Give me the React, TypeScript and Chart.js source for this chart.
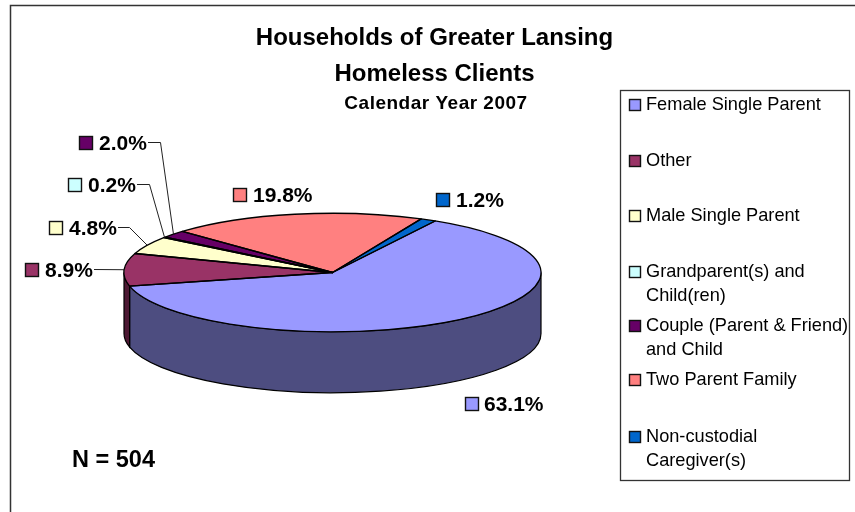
import React, { useEffect, useRef } from "react";
import { Chart, registerables } from "chart.js";

Chart.register(...registerables);

const categories = [
  "Female Single Parent",
  "Other",
  "Male Single Parent",
  "Grandparent(s) and Child(ren)",
  "Couple (Parent & Friend) and Child",
  "Two Parent Family",
  "Non-custodial Caregiver(s)",
];
const values = [63.1, 8.9, 4.8, 0.2, 2.0, 19.8, 1.2];
const valueLabels = ["63.1%", "8.9%", "4.8%", "0.2%", "2.0%", "19.8%", "1.2%"];
const topColors = ["#9999FF", "#993366", "#FFFFCC", "#CCFFFF", "#660066", "#FF8080", "#0066CC"];
const sideColors = ["#4D4D80", "#4D1933", "#808066", "#668080", "#330033", "#804040", "#003366"];
const legendLines = [
  ["Female Single Parent"],
  ["Other"],
  ["Male Single Parent"],
  ["Grandparent(s) and", "Child(ren)"],
  ["Couple (Parent & Friend)", "and Child"],
  ["Two Parent Family"],
  ["Non-custodial", "Caregiver(s)"],
];
const titleLines = ["Households of Greater Lansing", "Homeless Clients"];
const subtitle = "Calendar Year 2007";
const note = "N = 504";

// layout only
const W = 855;
const H = 512;
const SQUASH = 0.284;
const DEPTH = 61;
const FONT = '"Liberation Sans", Arial, sans-serif';
const legendRowY = [105, 161, 216, 272, 326, 380, 437];
const labelPos = [
  { sx: 465, y: 404, tx: 484 },
  { sx: 25, y: 270, tx: 45, lead: [[94, 269]] },
  { sx: 49, y: 228, tx: 69, lead: [[118, 227], [129, 227]] },
  { sx: 68, y: 185, tx: 88, lead: [[137, 184], [149, 184]] },
  { sx: 79, y: 143, tx: 99, lead: [[148, 142], [160, 142]] },
  { sx: 233, y: 195, tx: 253 },
  { sx: 436, y: 200, tx: 456 },
];

const pie3d = {
  id: "pie3d",
  beforeDatasetsDraw(chart: any) {
    const ctx = chart.ctx;
    const arcs = chart.getDatasetMeta(0).data;
    // side wall
    arcs.forEach((arc: any, i: number) => {
      const { x, y, outerRadius: r, startAngle, endAngle } = arc;
      [0, Math.PI * 2].forEach((k) => {
        const a = Math.max(startAngle, k);
        const b = Math.min(endAngle, k + Math.PI);
        if (b <= a) return;
        ctx.save();
        ctx.beginPath();
        ctx.ellipse(x, y, r, r * SQUASH, 0, a, b);
        ctx.ellipse(x, y + DEPTH, r, r * SQUASH, 0, b, a, true);
        ctx.closePath();
        ctx.fillStyle = sideColors[i];
        ctx.fill();
        ctx.lineWidth = 1.2;
        ctx.strokeStyle = "#000";
        ctx.stroke();
        ctx.restore();
      });
    });
    const { x, y } = arcs[0];
    ctx.save();
    ctx.translate(x, y);
    ctx.scale(1, SQUASH);
    ctx.translate(-x, -y);
  },
  afterDatasetsDraw(chart: any) {
    const ctx = chart.ctx;
    ctx.restore();
    const arcs = chart.getDatasetMeta(0).data;
    arcs.forEach((arc: any) => {
      const { x, y, outerRadius: r, startAngle, endAngle } = arc;
      ctx.save();
      ctx.beginPath();
      ctx.moveTo(x, y);
      ctx.ellipse(x, y, r, r * SQUASH, 0, startAngle, endAngle);
      ctx.closePath();
      ctx.lineWidth = 1.3;
      ctx.lineJoin = "round";
      ctx.strokeStyle = "#000";
      ctx.stroke();
      ctx.restore();
    });
    drawDecor(chart);
  },
};

function swatch(ctx: any, x: number, y: number, s: number, color: string) {
  ctx.fillStyle = color;
  ctx.fillRect(x, y, s, s);
  ctx.lineWidth = 1.4;
  ctx.strokeStyle = "#111";
  ctx.strokeRect(x, y, s, s);
}

function drawDecor(chart: any) {
  const ctx = chart.ctx;
  const arcs = chart.getDatasetMeta(0).data;
  ctx.save();

  // outer frame: only the top and left edges fall inside the picture
  ctx.lineWidth = 1.5;
  ctx.strokeStyle = "#333";
  ctx.beginPath();
  ctx.moveTo(10.5, H);
  ctx.lineTo(10.5, 5.5);
  ctx.lineTo(W, 5.5);
  ctx.stroke();

  // title
  ctx.fillStyle = "#000";
  ctx.textAlign = "center";
  ctx.textBaseline = "middle";
  ctx.font = `bold 24px ${FONT}`;
  ctx.fillText(titleLines[0], 434.5, 38);
  ctx.fillText(titleLines[1], 434.5, 74);
  ctx.font = `bold 19px ${FONT}`;
  ctx.letterSpacing = "0.5px";
  ctx.fillText(subtitle, 436, 104);
  ctx.letterSpacing = "0px";

  // value labels and leaders
  ctx.textAlign = "left";
  ctx.font = `bold 21px ${FONT}`;
  valueLabels.forEach((t, i) => {
    const p: any = labelPos[i];
    swatch(ctx, p.sx + 0.5, p.y - 6.5, 13, topColors[i]);
    ctx.fillStyle = "#000";
    ctx.fillText(t, p.tx, p.y + 1);
    if (p.lead) {
      const arc = arcs[i];
      const mid = (arc.startAngle + arc.endAngle) / 2;
      const ex = arc.x + arc.outerRadius * Math.cos(mid);
      const ey = arc.y + arc.outerRadius * SQUASH * Math.sin(mid);
      ctx.beginPath();
      p.lead.forEach(([lx, ly]: number[], k: number) => {
        if (k === 0) ctx.moveTo(lx, ly + 0.5);
        else ctx.lineTo(lx + 0.5, ly + 0.5);
      });
      ctx.lineTo(ex, ey);
      ctx.lineWidth = 1;
      ctx.strokeStyle = "#222";
      ctx.stroke();
    }
  });

  // N
  ctx.font = `bold 23.5px ${FONT}`;
  ctx.fillStyle = "#000";
  ctx.fillText(note, 72, 461);

  // legend
  ctx.lineWidth = 1.3;
  ctx.strokeStyle = "#333";
  ctx.strokeRect(620.5, 90.5, 229, 390);
  ctx.font = `18.2px ${FONT}`;
  legendLines.forEach((lines, i) => {
    swatch(ctx, 629.5, legendRowY[i] - 5.5, 11, topColors[i]);
    ctx.fillStyle = "#000";
    lines.forEach((l, k) => ctx.fillText(l, 646, legendRowY[i] + k * 24));
  });
  ctx.restore();
}

export default function App() {
  const ref = useRef<HTMLCanvasElement>(null);
  useEffect(() => {
    const chart = new Chart(ref.current!, {
      type: "pie",
      data: {
        labels: categories,
        datasets: [
          { data: values, backgroundColor: topColors, borderWidth: 0 },
        ],
      },
      options: {
        responsive: false,
        animation: false,
        rotation: 29.5,
        layout: { padding: { left: 124, right: 314, top: 64, bottom: 31 } },
        plugins: {
          legend: { display: false },
          title: { display: false },
          tooltip: { enabled: false },
        },
      },
      plugins: [
        {
          id: "bg",
          beforeDraw(c: any) {
            c.ctx.save();
            c.ctx.fillStyle = "#fff";
            c.ctx.fillRect(0, 0, W, H);
            c.ctx.restore();
          },
        },
        pie3d,
      ],
    });
    return () => chart.destroy();
  }, []);
  return (
    <div style={{ position: "absolute", left: 0, top: 0 }}>
      <canvas ref={ref} width={W} height={H} style={{ display: "block" }} />
    </div>
  );
}
